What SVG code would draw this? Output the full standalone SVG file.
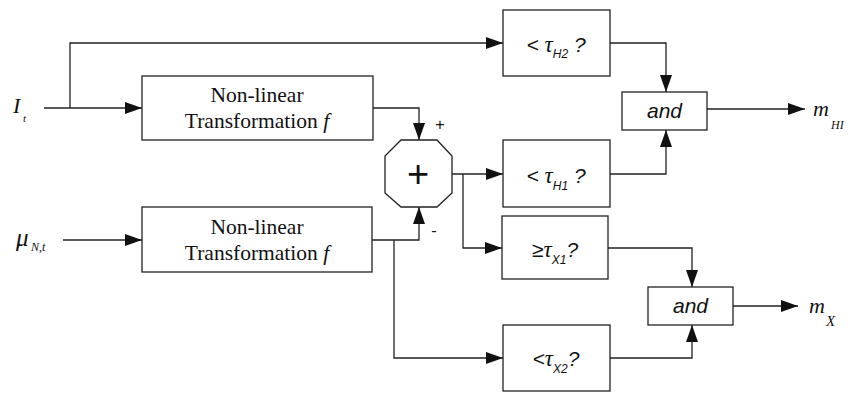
<svg xmlns="http://www.w3.org/2000/svg" width="856" height="394" viewBox="0 0 856 394">
<defs>
<marker id="ah" viewBox="0 0 17 12" refX="17" refY="6" markerWidth="17" markerHeight="12" markerUnits="userSpaceOnUse" orient="auto">
<path d="M0,0 L17,6 L0,12 Z" fill="#111"/>
</marker>
<style>
.box{fill:#fff;stroke:#222;stroke-width:1.3}
.ln{fill:none;stroke:#222;stroke-width:1.3}
.ser{font-family:"Liberation Serif",serif;font-size:21.5px;fill:#111;text-anchor:middle}
.th{font-family:"Liberation Sans",sans-serif;font-style:italic;font-size:21px;fill:#111;text-anchor:middle}
.tau{font-family:"Liberation Serif",serif;font-style:italic;font-size:23px}
.sub{font-family:"Liberation Sans",sans-serif;font-size:12px}
.var{font-family:"Liberation Serif",serif;font-style:italic;font-size:21px;fill:#111}
.sign{font-family:"Liberation Sans",sans-serif;font-size:16px;fill:#111;text-anchor:middle}
</style>
</defs>
<g id="connectors">
<polyline class="ln" points="44,108 142,108" marker-end="url(#ah)"/>
<polyline class="ln" points="70,108 70,43 503,43" marker-end="url(#ah)"/>
<polyline class="ln" points="63,240 142,240" marker-end="url(#ah)"/>
<polyline class="ln" points="373,108 419,108 419,140" marker-end="url(#ah)"/>
<polyline class="ln" points="372,240 419,240 419,207" marker-end="url(#ah)"/>
<polyline class="ln" points="394,240 394,358 503,358" marker-end="url(#ah)"/>
<polyline class="ln" points="452,174 503,174" marker-end="url(#ah)"/>
<polyline class="ln" points="463,174 463,248 502,248" marker-end="url(#ah)"/>
<polyline class="ln" points="610,43 666,43 666,92" marker-end="url(#ah)"/>
<polyline class="ln" points="610,174 666,174 666,130" marker-end="url(#ah)"/>
<polyline class="ln" points="608,248 692,248 692,287" marker-end="url(#ah)"/>
<polyline class="ln" points="610,358 692,358 692,325" marker-end="url(#ah)"/>
<polyline class="ln" points="707,109 805,109" marker-end="url(#ah)"/>
<polyline class="ln" points="733,306 798,306" marker-end="url(#ah)"/>
</g>
<g id="in_I">
<text class="var" x="13" y="113" style="font-size:22px">I</text>
<text class="var" x="23" y="122" style="font-size:11px">t</text>
</g>
<g id="in_mu">
<text class="var" x="16" y="246" style="font-size:25px">μ</text>
<text class="var" x="31" y="251" style="font-size:12px">N,t</text>
</g>
<g id="nlt1">
<rect class="box" x="142" y="76" width="231" height="64"/>
<text class="ser" x="257" y="102">Non-linear</text>
<text class="ser" x="257" y="128">Transformation <tspan font-style="italic">f</tspan></text>
</g>
<g id="nlt2">
<rect class="box" x="142" y="207" width="230" height="65"/>
<text class="ser" x="257" y="234">Non-linear</text>
<text class="ser" x="257" y="260">Transformation <tspan font-style="italic">f</tspan></text>
</g>
<g id="sum">
<polygon class="box" points="401,140 437,140 452,156 452,193 437,207 401,207 385,193 385,156"/>
<text x="418" y="187" style="font-family:'Liberation Sans',sans-serif;font-size:38px;fill:#111;text-anchor:middle">+</text>
<text class="sign" x="440" y="130">+</text>
<text class="sign" x="434" y="236">-</text>
</g>
<g id="tH2">
<rect class="box" x="503" y="10" width="107" height="66"/>
<text class="th" x="556" y="52">&lt; <tspan class="tau">τ</tspan><tspan class="sub" dy="6">H2</tspan><tspan dy="-6"> ?</tspan></text>
</g>
<g id="tH1">
<rect class="box" x="503" y="140" width="107" height="67"/>
<text class="th" x="556" y="183">&lt; <tspan class="tau">τ</tspan><tspan class="sub" dy="7">H1</tspan><tspan dy="-7"> ?</tspan></text>
</g>
<g id="tX1">
<rect class="box" x="502" y="216" width="106" height="63"/>
<text class="th" x="555" y="257">≥<tspan class="tau">τ</tspan><tspan class="sub" dy="7">X1</tspan><tspan dy="-7">?</tspan></text>
</g>
<g id="tX2">
<rect class="box" x="503" y="325" width="107" height="66"/>
<text class="th" x="556" y="366">&lt;<tspan class="tau">τ</tspan><tspan class="sub" dy="7">X2</tspan><tspan dy="-7">?</tspan></text>
</g>
<g id="and1">
<rect class="box" x="622" y="92" width="85" height="38"/>
<text class="th" x="664.5" y="118">and</text>
</g>
<g id="and2">
<rect class="box" x="648" y="287" width="85" height="38"/>
<text class="th" x="690.5" y="313">and</text>
</g>
<g id="out_mHI">
<text class="var" x="813" y="116" style="font-size:22px">m</text>
<text class="var" x="831" y="129" style="font-size:12px">HI</text>
</g>
<g id="out_mX">
<text class="var" x="809" y="313" style="font-size:22px">m</text>
<text class="var" x="826" y="326" style="font-size:15px">X</text>
</g>
</svg>
